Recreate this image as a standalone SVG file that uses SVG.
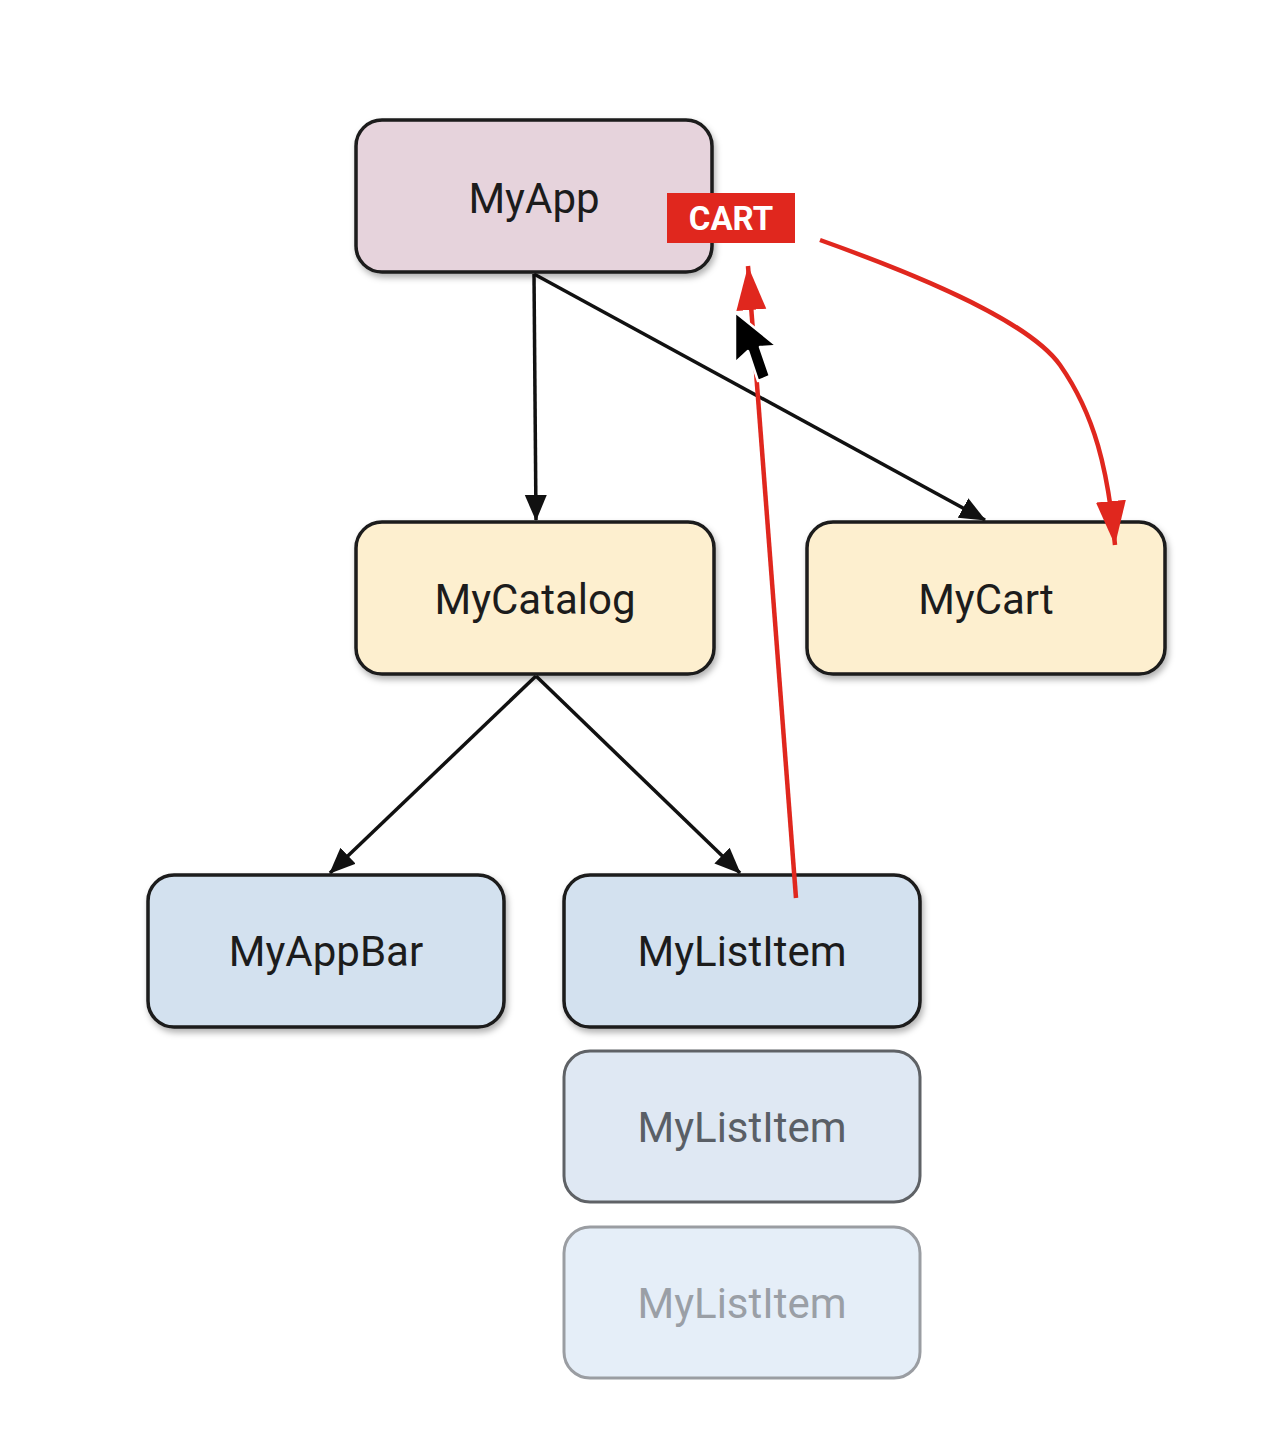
<svg xmlns="http://www.w3.org/2000/svg" width="1284" height="1436" viewBox="0 0 1284 1436">
<defs>
<style>
.node rect{stroke:#1a1a1a;stroke-width:3.5}
.lbl{font-family:Roboto,"Liberation Sans",sans-serif;font-size:42px;fill:#1c1c1c;text-anchor:middle}
.edge{stroke:#111;stroke-width:3.5;fill:none;marker-end:url(#ah)}
.red{stroke:#e0271e;stroke-width:4.5;fill:none;marker-end:url(#ahr)}
</style>
<marker id="ah" markerUnits="userSpaceOnUse" markerWidth="28" markerHeight="24" refX="25" refY="12" orient="auto">
<path d="M0,1 L26,12 L0,23 z" fill="#111"/>
</marker>
<marker id="ahr" markerUnits="userSpaceOnUse" markerWidth="46" markerHeight="32" refX="44" refY="16" orient="auto">
<path d="M0,1 L44,16 L0,31 z" fill="#e0271e"/>
</marker>
<filter id="sh" x="-10%" y="-10%" width="125%" height="130%">
<feDropShadow dx="2" dy="4" stdDeviation="3" flood-color="#000" flood-opacity="0.3"/>
</filter>
</defs>
<rect width="1284" height="1436" fill="#ffffff"/>
<g id="connectors">
<path class="edge" d="M534,274 L536,520"/>
<path class="edge" d="M534,274 L985,520"/>
<path class="edge" d="M536,676 L330,873"/>
<path class="edge" d="M536,676 L740,873"/>
</g>
<g id="n-myapp" class="node"><rect x="356" y="120" width="356" height="152" rx="26" fill="#e6d3dc" filter="url(#sh)"/><text class="lbl" x="534" y="213">MyApp</text></g>
<g id="n-mycatalog" class="node"><rect x="356" y="522" width="358" height="152" rx="26" fill="#fdefcf" filter="url(#sh)"/><text class="lbl" x="535" y="614">MyCatalog</text></g>
<g id="n-mycart" class="node"><rect x="807" y="522" width="358" height="152" rx="26" fill="#fdefcf" filter="url(#sh)"/><text class="lbl" x="986" y="614">MyCart</text></g>
<g id="n-myappbar" class="node"><rect x="148" y="875" width="356" height="152" rx="26" fill="#d3e1ef" filter="url(#sh)"/><text class="lbl" x="326" y="966">MyAppBar</text></g>
<g id="n-mylistitem1" class="node"><rect x="564" y="875" width="356" height="152" rx="26" fill="#d3e1ef" filter="url(#sh)"/><text class="lbl" x="742" y="966">MyListItem</text></g>
<g id="n-mylistitem2" class="node"><rect x="564" y="1051" width="356" height="151" rx="26" fill="#dfe8f3" style="stroke:#5f6266;stroke-width:3"/><text class="lbl" x="742" y="1142" style="fill:#5a5f66">MyListItem</text></g>
<g id="n-mylistitem3" class="node"><rect x="564" y="1227" width="356" height="151" rx="26" fill="#e5eef8" style="stroke:#9a9da2;stroke-width:3"/><text class="lbl" x="742" y="1318" style="fill:#9a9fa6">MyListItem</text></g>
<g id="red-flow">
<path class="red" d="M796,898 L748,266"/>
<path class="red" d="M820,240 C960,290 1035,330 1060,365 C1095,415 1108,470 1115,545"/>
</g>
<g id="cart-badge">
<rect x="667" y="193" width="128" height="50" fill="#e0271e"/>
<text x="731" y="230" font-family="Roboto,'Liberation Sans',sans-serif" font-weight="bold" font-size="33" fill="#ffffff" text-anchor="middle">CART</text>
</g>
<g id="cursor">
<path d="M735,312 L735,363 L748,351 L758,381 L770,376 L760,347 L777,346 Z" fill="#000" stroke="#fff" stroke-width="2.5" stroke-linejoin="round"/>
</g>
</svg>
